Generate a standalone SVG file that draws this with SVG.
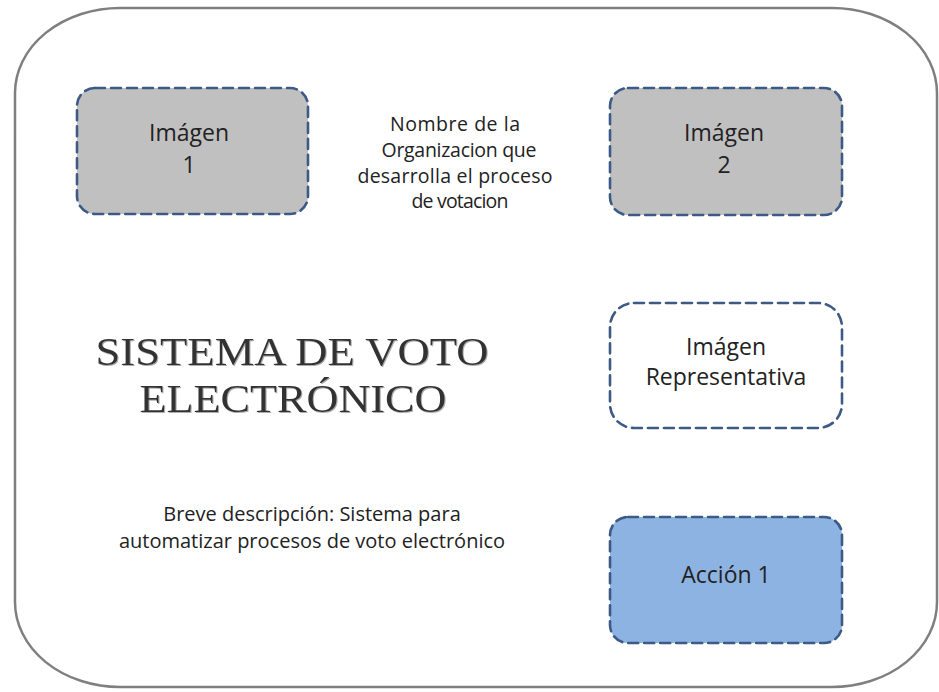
<svg xmlns="http://www.w3.org/2000/svg" width="939" height="692" viewBox="0 0 939 692">
<style>
.box{stroke:#3d5a87;stroke-width:2.6;stroke-dasharray:10 6;stroke-linecap:round}
.gray{fill:#c0c0c0}
.white{fill:#ffffff}
.blue{fill:#8db3e2}
.t{font-family:"Open Sans","Noto Sans","DejaVu Sans",sans-serif;font-size:23px;fill:#222222;text-anchor:middle}
.m{font-family:"Open Sans","Noto Sans","DejaVu Sans",sans-serif;font-size:19.5px;fill:#222222;text-anchor:middle}
.d{font-family:"Open Sans","Noto Sans","DejaVu Sans",sans-serif;font-size:20px;fill:#222222;text-anchor:middle}
.title{font-family:"Liberation Serif","DejaVu Serif",serif;font-size:40px;fill:#333333;text-anchor:middle}
</style>
<defs>
<filter id="sh" x="-5%" y="-20%" width="110%" height="140%">
<feDropShadow dx="1" dy="1" stdDeviation="0.6" flood-color="#9a9a9a" flood-opacity="0.8"/>
</filter>
</defs>
<rect x="0" y="0" width="939" height="692" fill="#ffffff"/>
<g id="frame">
<rect x="15" y="8" width="922" height="679" rx="105" ry="85" fill="#ffffff" stroke="#7f7f7f" stroke-width="2.5"/>
</g>
<g id="connectors"></g>
<g id="imagen1">
<rect class="box gray" x="77" y="88" width="231" height="126" rx="18"/>
<text class="t" x="189" y="141">Imágen</text>
<text class="t" x="189" y="173">1</text>
</g>
<g id="organizacion">
<text class="m" x="455" y="131" textLength="130" lengthAdjust="spacing">Nombre de la</text>
<text class="m" x="459" y="157" textLength="155" lengthAdjust="spacing">Organizacion que</text>
<text class="m" x="455" y="183" textLength="195" lengthAdjust="spacing">desarrolla el proceso</text>
<text class="m" x="460" y="208" textLength="97" lengthAdjust="spacing">de votacion</text>
</g>
<g id="imagen2">
<rect class="box gray" x="610" y="88" width="232" height="127" rx="18"/>
<text class="t" x="724" y="141">Imágen</text>
<text class="t" x="724" y="173">2</text>
</g>
<g id="titulo" filter="url(#sh)">
<text class="title" x="292" y="365" textLength="393" lengthAdjust="spacingAndGlyphs">SISTEMA DE VOTO</text>
<text class="title" x="293" y="412" textLength="307" lengthAdjust="spacingAndGlyphs">ELECTRÓNICO</text>
</g>
<g id="representativa">
<rect class="box white" x="610" y="303" width="232" height="125" rx="24"/>
<text class="t" x="726" y="355">Imágen</text>
<text class="t" x="726" y="385">Representativa</text>
</g>
<g id="descripcion">
<text class="d" x="312" y="521">Breve descripción: Sistema para</text>
<text class="d" x="312" y="548">automatizar procesos de voto electrónico</text>
</g>
<g id="accion1">
<rect class="box blue" x="610" y="517" width="232" height="126" rx="18"/>
<text class="t" x="726" y="583">Acción 1</text>
</g>
</svg>
